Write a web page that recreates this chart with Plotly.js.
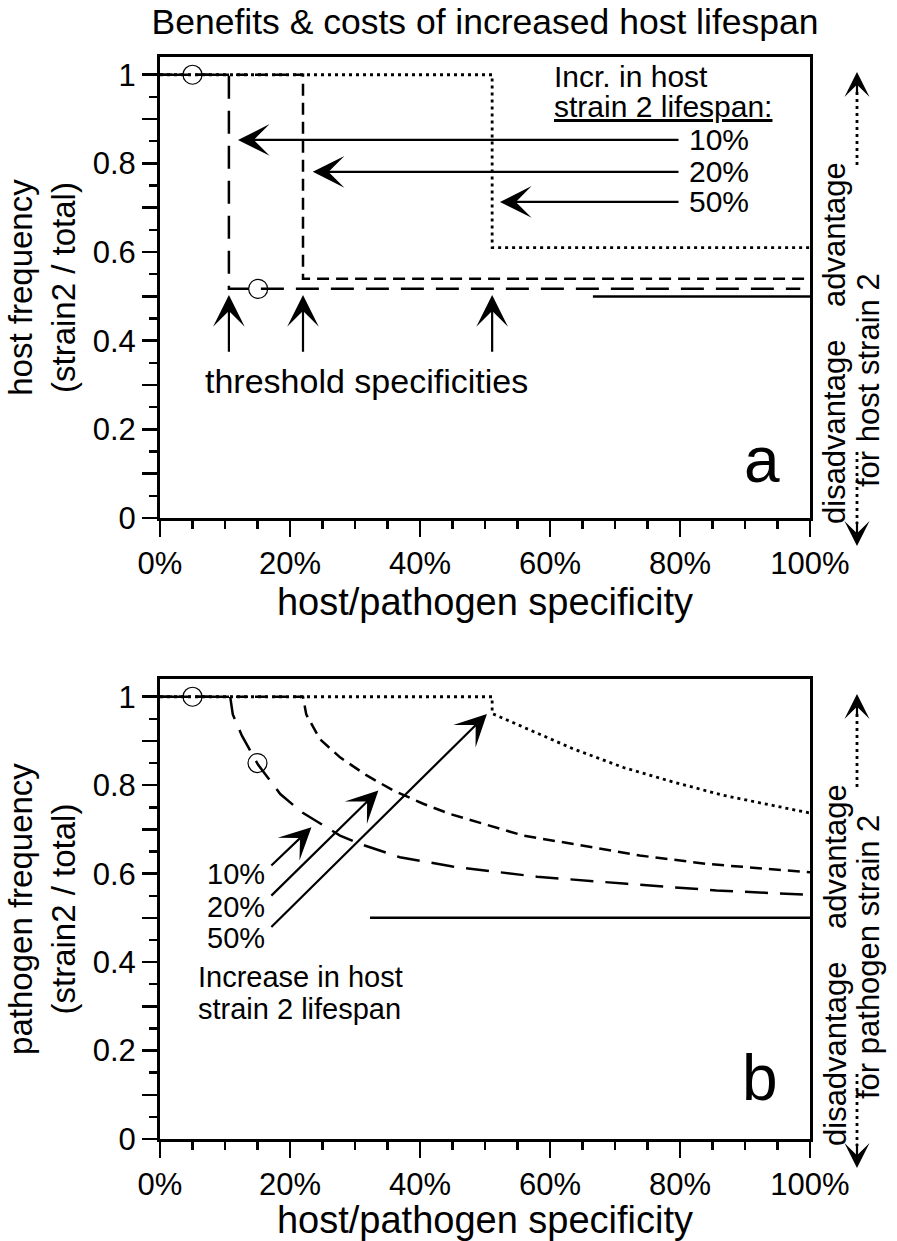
<!DOCTYPE html>
<html><head><meta charset="utf-8">
<script src="https://cdn.plot.ly/plotly-3.0.1.min.js"></script>
<style>body{margin:0;background:#fff}</style>
</head><body><div id="chart" style="width:897px;height:1241px"></div>
<script>
// ---------- Panel a: host frequency (strain2 / total) ----------
const hostX10 = [0, 0.106, 0.106, 0.985];
const hostY10 = [1, 1, 0.517, 0.517];
const hostX20 = [0, 0.22, 0.22, 1.0];
const hostY20 = [1, 1, 0.54, 0.54];
const hostX50 = [0, 0.511, 0.511, 1.0];
const hostY50 = [1, 1, 0.61, 0.61];
const hostCircX = [0.05, 0.151];
const hostCircY = [1, 0.517];

// ---------- Panel b: pathogen frequency (strain2 / total) ----------
const pathX10 = [0, 0.108, 0.112, 0.126, 0.151, 0.185, 0.218, 0.246, 0.277, 0.308, 0.338, 0.369, 0.45, 0.58, 0.718, 0.856, 1.0];
const pathY10 = [1, 1, 0.96, 0.912, 0.846, 0.780, 0.739, 0.713, 0.686, 0.667, 0.652, 0.637, 0.616, 0.593, 0.577, 0.562, 0.552];
const pathX20 = [0, 0.22, 0.225, 0.246, 0.277, 0.318, 0.359, 0.405, 0.446, 0.497, 0.559, 0.636, 0.738, 0.841, 1.0];
const pathY20 = [1, 1, 0.96, 0.904, 0.863, 0.822, 0.788, 0.758, 0.735, 0.713, 0.686, 0.667, 0.641, 0.622, 0.603];
const pathX50 = [0, 0.511, 0.511, 0.559, 0.636, 0.713, 0.790, 0.867, 0.944, 1.0];
const pathY50 = [1, 1, 0.962, 0.931, 0.882, 0.840, 0.807, 0.777, 0.754, 0.737];
const pathCircX = [0.05, 0.15];
const pathCircY = [1, 0.85];

// neutral reference (equal frequency) line
const neutralY = 0.5;
const neutralXa = [0.666, 1.063];
const neutralXb = [0.323, 1.063];

// tick labels
const xTickVals = [0, 0.2, 0.4, 0.6, 0.8, 1.0];
const xTickText = ['0%', '20%', '40%', '60%', '80%', '100%'];
const yTickVals = [0, 0.1, 0.2, 0.3, 0.4, 0.5, 0.6, 0.7, 0.8, 0.9, 1.0];
const yTickText = ['0', '', '0.2', '', '0.4', '', '0.6', '', '0.8', '', '1'];

const lifespanLabels = ['10%', '20%', '50%'];

const FONT = 'Liberation Sans, Arial, Helvetica, sans-serif';
const LW = 2.5;
const DASH = {d10: '23px,12px', d20: '12px,7px', d50: '3px,4px'};

function line(x, y, dash, xa, ya, w) {
  return {x: x, y: y, xaxis: xa, yaxis: ya, mode: 'lines', type: 'scatter',
    line: {color: '#000', width: w || LW, dash: dash}, hoverinfo: 'skip', cliponaxis: false};
}
function circles(x, y, xa, ya) {
  return {x: x, y: y, xaxis: xa, yaxis: ya, mode: 'markers', type: 'scatter',
    marker: {symbol: 'circle-open', size: 19, color: '#000', line: {width: 1.2, color: '#000'}}, hoverinfo: 'skip'};
}

const data = [
  line(hostX10, hostY10, DASH.d10, 'x', 'y'),
  line(hostX20, hostY20, DASH.d20, 'x', 'y'),
  line(hostX50, hostY50, DASH.d50, 'x', 'y', 2.8),
  circles(hostCircX, hostCircY, 'x', 'y'),
  line(neutralXa, [neutralY, neutralY], 'solid', 'x', 'y'),
  line(pathX10, pathY10, DASH.d10, 'x2', 'y2'),
  line(pathX20, pathY20, DASH.d20, 'x2', 'y2'),
  line(pathX50, pathY50, DASH.d50, 'x2', 'y2', 2.8),
  circles(pathCircX, pathCircY, 'x2', 'y2'),
  line(neutralXb, [neutralY, neutralY], 'solid', 'x2', 'y2')
];

function xaxis(anchor) {
  return {anchor: anchor, domain: [0, 1], range: [0, 1], showgrid: false, zeroline: false,
    showline: true, linewidth: 3, linecolor: '#000', mirror: true,
    ticks: 'outside', ticklen: 16, tickwidth: 2.5, tickcolor: '#000',
    tickmode: 'array', tickvals: xTickVals, ticktext: xTickText,
    tickfont: {size: 31, family: FONT},
    minor: {tickmode: 'linear', tick0: 0, dtick: 0.05, ticks: 'outside', ticklen: 8, tickwidth: 2.5, tickcolor: '#000', showgrid: false},
    title: {text: 'host/pathogen specificity', font: {size: 38, family: FONT}, standoff: 2}};
}
function yaxis(anchor, domain, title) {
  return {anchor: anchor, domain: domain, range: [0, 1.04], showgrid: false, zeroline: false,
    showline: true, linewidth: 3, linecolor: '#000', mirror: true,
    ticks: 'outside', ticklen: 15, tickwidth: 2.5, tickcolor: '#000',
    tickmode: 'array', tickvals: yTickVals, ticktext: yTickText,
    tickfont: {size: 31, family: FONT},
    minor: {tickmode: 'linear', tick0: 0, dtick: 0.05, ticks: 'outside', ticklen: 8, tickwidth: 2.5, tickcolor: '#000', showgrid: false},
    title: {text: title, font: {size: 33, family: FONT}, standoff: 8}};
}

// pixel -> paper helpers for decorations in the margin
const PL = 160, PW = 650, PB = 1139, PH = 1082;
const px = v => (v - PL) / PW;
const py = v => (PB - v) / PH;

const annotations = [];
const shapes = [];

function arrowAnn(xr, yr, x, y, ax, ay, size) {
  annotations.push({xref: xr, yref: yr, axref: xr, ayref: yr, x: x, y: y, ax: ax, ay: ay,
    text: '', showarrow: true, arrowhead: 3, arrowsize: size || 2.4, arrowwidth: 2.2, arrowcolor: '#000', standoff: 0});
}
function txt(xr, yr, x, y, text, size, opts) {
  annotations.push(Object.assign({xref: xr, yref: yr, x: x, y: y, text: text, showarrow: false,
    font: {size: size, family: FONT, color: '#000'}}, opts || {}));
}

// ----- panel a annotations -----
txt('x', 'y', 0.603, 0.997, 'Incr. in host', 30, {xanchor: 'left', yanchor: 'middle'});
txt('x', 'y', 0.603, 0.928, '<u>strain 2 lifespan:</u>', 30, {xanchor: 'left', yanchor: 'middle'});
const aArrowY = [0.853, 0.781, 0.713];
const aArrowTip = [0.12, 0.235, 0.523];
for (let i = 0; i < 3; i++) {
  arrowAnn('x', 'y', aArrowTip[i], aArrowY[i], 0.80, aArrowY[i]);
  txt('x', 'y', 0.81, aArrowY[i], lifespanLabels[i], 30, {xanchor: 'left', yanchor: 'middle'});
}
const thrX = [0.106, 0.22, 0.511];
for (const t of thrX) arrowAnn('x', 'y', t, 0.503, t, 0.372);
txt('x', 'y', 0.318, 0.31, 'threshold specificities', 34, {xanchor: 'center', yanchor: 'middle'});
txt('x', 'y', 0.926, 0.131, 'a', 64, {xanchor: 'center', yanchor: 'middle'});

// ----- panel b annotations -----
const bTail = [[0.169, 0.615], [0.169, 0.547], [0.169, 0.476]];
const bTip = [[0.233, 0.705], [0.336, 0.788], [0.503, 0.961]];
const bLab = [0.60, 0.524, 0.455];
for (let i = 0; i < 3; i++) {
  arrowAnn('x2', 'y2', bTip[i][0], bTip[i][1], bTail[i][0], bTail[i][1]);
  txt('x2', 'y2', 0.165, bLab[i], lifespanLabels[i], 29, {xanchor: 'right', yanchor: 'middle'});
}
txt('x2', 'y2', 0.055, 0.366, 'Increase in host', 29, {xanchor: 'left', yanchor: 'middle'});
txt('x2', 'y2', 0.055, 0.295, 'strain 2 lifespan', 29, {xanchor: 'left', yanchor: 'middle'});
txt('x2', 'y2', 0.923, 0.138, 'b', 64, {xanchor: 'center', yanchor: 'middle'});

// ----- right-hand advantage / disadvantage labels -----
function sideLabels(off, who, forY) {
  txt('paper', 'paper', px(835), py(235 + off), 'advantage', 31, {textangle: -90, xanchor: 'center', yanchor: 'middle'});
  txt('paper', 'paper', px(835), py(432 + off), 'disadvantage', 31, {textangle: -90, xanchor: 'center', yanchor: 'middle'});
  txt('paper', 'paper', px(868), py(forY + off), 'for ' + who + ' strain 2', 31, {textangle: -90, xanchor: 'center', yanchor: 'middle'});
  shapes.push({type: 'line', xref: 'paper', yref: 'paper', x0: px(857), x1: px(857), y0: py(92 + off), y1: py(168 + off),
    line: {color: '#000', width: 2.8, dash: '3px,4px'}});
  shapes.push({type: 'line', xref: 'paper', yref: 'paper', x0: px(857), x1: px(857), y0: py(452 + off), y1: py(524 + off),
    line: {color: '#000', width: 2.8, dash: '3px,4px'}});
  arrowAnn('paper', 'paper', px(857), py(72 + off), px(857), py(96 + off), 1.9);
  arrowAnn('paper', 'paper', px(857), py(546 + off), px(857), py(520 + off), 1.9);
}
sideLabels(0, 'host', 380);
sideLabels(622, 'pathogen', 335);

const layout = {
  width: 897, height: 1241,
  margin: {l: 160, r: 87, t: 57, b: 102},
  paper_bgcolor: '#fff', plot_bgcolor: '#fff',
  showlegend: false,
  font: {family: FONT, size: 30, color: '#000'},
  title: {text: 'Benefits & costs of increased host lifespan', x: 0.5, xref: 'paper', xanchor: 'center',
    y: 1 - 22 / 1241, yref: 'container', yanchor: 'middle', font: {size: 35.5, family: FONT, color: '#000'}},
  xaxis: xaxis('y'),
  yaxis: yaxis('x', [0.5739, 1], 'host frequency<br>(strain2 / total)'),
  xaxis2: xaxis('y2'),
  yaxis2: yaxis('x2', [0, 0.4251], 'pathogen frequency<br>(strain2 / total)'),
  annotations: annotations,
  shapes: shapes
};

Plotly.newPlot('chart', data, layout, {staticPlot: true, displayModeBar: false});
</script>
</body></html>
